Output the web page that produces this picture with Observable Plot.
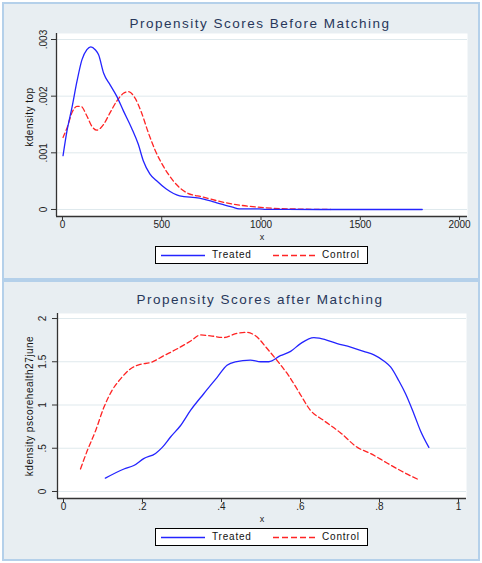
<!DOCTYPE html>
<html>
<head>
<meta charset="utf-8">
<script src="https://cdn.jsdelivr.net/npm/d3@7"></script>
<script src="https://cdn.jsdelivr.net/npm/@observablehq/plot@0.6"></script>
<style>
  html, body { margin: 0; padding: 0; background: #ffffff; }
  #root { position: relative; width: 482px; height: 563px; font-family: "Liberation Sans", Arial, sans-serif; }
  .panel { position: absolute; left: 2px; width: 474px; background: #e8eef2; border: 2px solid #b4d0ea; }
  .title { position: absolute; text-align: center; font-size: 13.5px; line-height: 16px; letter-spacing: 1.5px; color: #27375a; white-space: nowrap; }
  .plotbox { position: absolute; left: 0; }
  .legend { position: absolute; background: #ffffff; border: 1px solid #000; box-sizing: border-box; font-size: 10px; letter-spacing: 0.8px; color: #111; }
  .legend svg { position: absolute; top: 0; left: 0; }
  .legend span { position: absolute; top: 2px; line-height: 12px; }
</style>
</head>
<body>
<div id="root"></div>
<script>
// ---------- Data: Before matching ----------
const beforeTreatedX = [3, 23, 48, 73, 98, 123, 143, 165, 182, 207, 240, 273, 307, 348, 382, 407, 440, 473, 523, 590, 690, 757, 857, 890, 990, 1025, 1300, 1600, 1812];
const beforeTreatedY = [0.00095, 0.00139, 0.0018, 0.00226, 0.00264, 0.00282, 0.00287, 0.00282, 0.00273, 0.00241, 0.0022, 0.002, 0.00174, 0.00144, 0.00115, 0.00086, 0.00063, 0.00051, 0.00036, 0.00024, 0.0002, 0.00014, 0.00004, 0.00001, 0.00001, 0.000003, 0, 0, 0];
const beforeControlX = [3, 23, 48, 73, 93, 123, 148, 173, 207, 240, 273, 307, 332, 365, 398, 432, 465, 507, 557, 623, 707, 807, 907, 1023, 1150, 1350];
const beforeControlY = [0.00127, 0.00144, 0.00171, 0.00182, 0.00182, 0.00165, 0.00147, 0.0014, 0.0015, 0.00171, 0.00191, 0.00205, 0.00208, 0.00197, 0.00171, 0.00136, 0.00106, 0.00077, 0.00051, 0.0003, 0.00022, 0.00013, 0.00007, 0.00003, 0.00001, 0];
const beforeXTicks = [0, 500, 1000, 1500, 2000];
const beforeYTicks = [0, 0.001, 0.002, 0.003];

// ---------- Data: After matching ----------
const afterTreatedX = [0.106, 0.153, 0.178, 0.203, 0.233, 0.25, 0.271, 0.296, 0.322, 0.355, 0.389, 0.414, 0.435, 0.473, 0.499, 0.52, 0.549, 0.575, 0.60, 0.634, 0.65, 0.693, 0.727, 0.76, 0.786, 0.811, 0.828, 0.849, 0.866, 0.887, 0.904, 0.925];
const afterTreatedY = [0.154, 0.26, 0.30, 0.38, 0.44, 0.51, 0.63, 0.76, 0.94, 1.13, 1.32, 1.46, 1.50, 1.52, 1.50, 1.50, 1.57, 1.62, 1.71, 1.78, 1.77, 1.71, 1.67, 1.62, 1.58, 1.51, 1.44, 1.28, 1.13, 0.90, 0.70, 0.51];
const afterControlX = [0.043, 0.06, 0.081, 0.102, 0.123, 0.144, 0.17, 0.195, 0.22, 0.254, 0.288, 0.322, 0.347, 0.372, 0.406, 0.44, 0.465, 0.486, 0.516, 0.545, 0.57, 0.596, 0.625, 0.659, 0.701, 0.744, 0.777, 0.819, 0.862, 0.90];
const afterControlY = [0.26, 0.47, 0.70, 0.97, 1.17, 1.30, 1.42, 1.47, 1.49, 1.57, 1.65, 1.74, 1.81, 1.80, 1.78, 1.83, 1.84, 1.80, 1.65, 1.49, 1.34, 1.15, 0.94, 0.82, 0.68, 0.51, 0.44, 0.33, 0.22, 0.135];
const afterXTicks = [0, 0.2, 0.4, 0.6, 0.8, 1];
const afterYTicks = [0, 0.5, 1, 1.5, 2];

const seriesNames = ["Treated", "Control"];
const seriesColors = ["#2424ff", "#ff2424"];

function stataFmt(d) {
  if (d === 0) return "0";
  let s = String(+d.toFixed(6));
  return s.replace(/^0\./, ".");
}

function toRows(xs, ys) { return xs.map((x, i) => ({x, y: ys[i]})); }

function makePlot(cfg) {
  const treated = toRows(cfg.tx, cfg.ty);
  const control = toRows(cfg.cx, cfg.cy);
  const svg = Plot.plot({
    width: 474,
    height: cfg.height,
    marginLeft: cfg.ml,
    marginRight: cfg.mr,
    marginTop: 0,
    marginBottom: 24,
    style: {background: "transparent", fontFamily: "Liberation Sans, Arial, sans-serif", fontSize: "10px", color: "#222", overflow: "visible"},
    x: {domain: cfg.xdom},
    y: {domain: cfg.ydom},
    marks: [
      Plot.frame({fill: "white", stroke: null}),
      Plot.gridY(cfg.yticks, {stroke: "#dfe9ed", strokeOpacity: 1}),
      Plot.ruleX([cfg.xdom[0]], {stroke: "#333", strokeWidth: 1.3}),
      Plot.ruleY([cfg.ydom[0]], {stroke: "#333", strokeWidth: 1.3}),
      Plot.axisX(cfg.xticks, {tickSize: 4, tickPadding: 0, tickFormat: stataFmt, label: null, stroke: "#333", fontSize: 10}),
      Plot.axisY(cfg.yticks, {tickSize: 5, tickFormat: () => "", label: null, stroke: "#333"}),
      Plot.text(cfg.yticks, {y: d => d, text: d => stataFmt(d), frameAnchor: "left", textAnchor: "middle", dx: cfg.tickDx, rotate: -90, fontSize: 10, fill: "#222"}),
      Plot.text([cfg.ylabel], {frameAnchor: "left", textAnchor: "middle", dx: cfg.labelDx, dy: cfg.labelDy, rotate: -90, fontSize: 10, fill: "#111"}),
      Plot.text(["x"], {frameAnchor: "bottom", dy: 23, fontSize: 9, fill: "#222"}),
      Plot.line(control, {x: "x", y: "y", stroke: seriesColors[1], strokeWidth: 1.3, strokeDasharray: "5,3", curve: "monotone-x"}),
      Plot.line(treated, {x: "x", y: "y", stroke: seriesColors[0], strokeWidth: 1.3, curve: "monotone-x"})
    ]
  });
  d3.select(svg).selectAll("text").filter(function () { return this.textContent === cfg.ylabel; })
    .attr("letter-spacing", "0.5px");
  return svg;
}

function makeLegend(left, top, width, height) {
  const lg = document.createElement("div");
  lg.className = "legend";
  Object.assign(lg.style, {left: left + "px", top: top + "px", width: width + "px", height: height + "px"});
  const mid = Math.round((height - 2) / 2) + 0.5;
  lg.innerHTML =
    `<svg width="${width}" height="${height}">
       <line x1="5" x2="49" y1="${mid}" y2="${mid}" stroke="${seriesColors[0]}" stroke-width="1.3"/>
       <line x1="117" x2="161" y1="${mid}" y2="${mid}" stroke="${seriesColors[1]}" stroke-width="1.3" stroke-dasharray="6,3"/>
     </svg>
     <span style="left:56px">${seriesNames[0]}</span>
     <span style="left:166px">${seriesNames[1]}</span>`;
  return lg;
}

function makePanel(opts) {
  const p = document.createElement("div");
  p.className = "panel";
  p.style.top = opts.top + "px";
  p.style.height = opts.h + "px";
  const t = document.createElement("div");
  t.className = "title";
  t.style.top = opts.titleTop + "px";
  t.style.left = (opts.titleCenter - 4 - 200) + "px";
  t.style.width = "400px";
  t.textContent = opts.title;
  p.appendChild(t);
  const box = document.createElement("div");
  box.className = "plotbox";
  box.style.top = opts.plotTop + "px";
  box.appendChild(makePlot(opts.plot));
  p.appendChild(box);
  p.appendChild(makeLegend(151, opts.legendTop, 213, opts.legendH));
  return p;
}

const root = document.getElementById("root");
root.appendChild(makePanel({
  top: 2, h: 274, titleTop: 12, titleCenter: 260, title: "Propensity Scores Before Matching",
  plotTop: 29, legendTop: 242, legendH: 18,
  plot: {
    tx: beforeTreatedX, ty: beforeTreatedY, cx: beforeControlX, cy: beforeControlY,
    height: 207, ml: 52, mr: 11,
    xdom: [-30, 2040], ydom: [-0.000124, 0.003106],
    xticks: beforeXTicks, yticks: beforeYTicks,
    tickDx: -13, labelDx: -27, labelDy: -8, ylabel: "kdensity top"
  }
}));
root.appendChild(makePanel({
  top: 280, h: 277, titleTop: 10, titleCenter: 260, title: "Propensity Scores after Matching",
  plotTop: 31, legendTop: 246, legendH: 18,
  plot: {
    tx: afterTreatedX, ty: afterTreatedY, cx: afterControlX, cy: afterControlY,
    height: 209, ml: 53, mr: 12,
    xdom: [-0.0152, 1.0203], ydom: [-0.081, 2.058],
    xticks: afterXTicks, yticks: afterYTicks,
    tickDx: -15, labelDx: -28, labelDy: 0, ylabel: "kdensity pscorehealth27june"
  }
}));
</script>
</body>
</html>
